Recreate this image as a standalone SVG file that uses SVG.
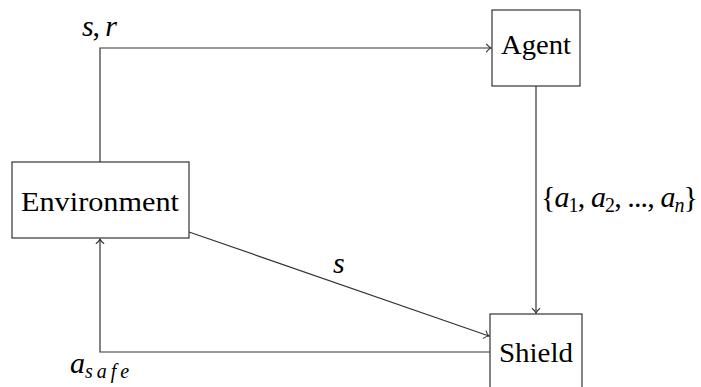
<svg xmlns="http://www.w3.org/2000/svg" width="701" height="387" viewBox="0 0 701 387">
  <style>
    .box { fill: #ffffff; stroke: #333333; stroke-width: 1.2; }
    .wire { fill: none; stroke: #333333; stroke-width: 1.2; marker-end: url(#tip); }
    .lbl { font-family: "Liberation Serif", "DejaVu Serif", serif; font-size: 28px; fill: #000000; text-anchor: middle; }
    .math { font-family: "Liberation Serif", "DejaVu Serif", serif; font-size: 30px; font-style: italic; fill: #000000; }
    .up { font-style: normal; }
    .sub { font-size: 20px; }
  </style>
  <defs>
    <marker id="tip" markerUnits="userSpaceOnUse" markerWidth="12" markerHeight="12" viewBox="-8 -6 10 12" refX="0" refY="0" orient="auto" overflow="visible">
      <path d="M-4.5,-3.8 C-2.8,-1.6 -1.2,-0.5 0,0 C-1.2,0.5 -2.8,1.6 -4.5,3.8" fill="none" stroke="#333333" stroke-width="1.1" stroke-linecap="round"/>
    </marker>
  </defs>

  <!-- connectors -->
  <g id="connectors">
    <path class="wire" d="M100,162 V48 H491"/>
    <path class="wire" d="M536,86 V313"/>
    <path class="wire" d="M189,232 L489,336"/>
    <path class="wire" d="M490,352 H100 V239"/>
  </g>

  <!-- connector labels -->
  <g id="labels">
    <text class="math" x="82" y="36" textLength="35" lengthAdjust="spacing">s<tspan class="up">,</tspan> r</text>
    <text class="math" x="333" y="273">s</text>
    <text class="math" x="541" y="207" textLength="157" lengthAdjust="spacing"><tspan class="up">{</tspan>a<tspan class="sub up" dy="5">1</tspan><tspan class="up" dy="-5">, </tspan>a<tspan class="sub up" dy="5">2</tspan><tspan class="up" dy="-5">, ..., </tspan>a<tspan class="sub" dy="5">n</tspan><tspan class="up" dy="-5">}</tspan></text>
    <text class="math" x="70" y="373">a<tspan class="sub" dy="5" letter-spacing="4">safe</tspan></text>
  </g>

  <!-- nodes -->
  <g id="environment">
    <rect class="box" x="12" y="162" width="177" height="76"/>
    <text class="lbl" x="100" y="211" textLength="158" lengthAdjust="spacingAndGlyphs">Environment</text>
  </g>
  <g id="agent">
    <rect class="box" x="492" y="10" width="88" height="76"/>
    <text class="lbl" x="536" y="54" textLength="70" lengthAdjust="spacingAndGlyphs">Agent</text>
  </g>
  <g id="shield">
    <rect class="box" x="490" y="314" width="92" height="78"/>
    <text class="lbl" x="536" y="362" textLength="74" lengthAdjust="spacingAndGlyphs">Shield</text>
  </g>
</svg>
